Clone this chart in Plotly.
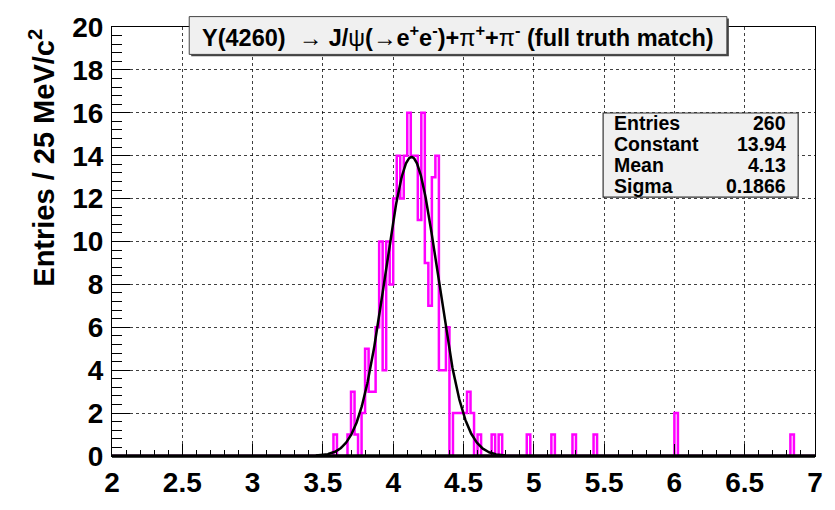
import numpy as np
import plotly.graph_objects as go

# Binning: 25 MeV/c^2 bins from 2 to 7 GeV/c^2
x_min, x_max, bin_width = 2.0, 7.0, 0.025

# Consecutive bin contents starting at the bin whose low edge is 3.575
core_start = 3.575
core_counts = [1, 0, 0, 0, 1, 3, 1, 0, 2, 5, 3, 3, 6, 10, 4, 10, 8, 12, 14, 12,
               14, 16, 14, 14, 11, 16, 9, 7, 13, 14, 4, 4, 6, 0, 2, 2, 2, 2, 3, 2,
               0, 1]

# Isolated entries in the high-mass tail (bin low edge, content)
tail_mass = [4.700, 4.750, 4.950, 5.125, 5.275, 5.425, 6.000, 6.825]
tail_counts = [1, 1, 1, 1, 1, 1, 2, 1]

# Gaussian fit result
fit_const, fit_mean, fit_sigma = 13.94, 4.13, 0.1866
fit_range = (3.45, 4.80)
n_entries = 260

y_ticks = list(range(0, 21, 2))

# ---- assemble the histogram ----
n_bins = int(round((x_max - x_min) / bin_width))
edges = x_min + bin_width * np.arange(n_bins + 1)
counts = np.zeros(n_bins)
i0 = int(round((core_start - x_min) / bin_width))
counts[i0:i0 + len(core_counts)] = core_counts
for m, c in zip(tail_mass, tail_counts):
    counts[int(round((m - x_min) / bin_width))] += c

step_x = list(edges)
step_y = list(counts) + [counts[-1]]

fx = np.linspace(fit_range[0], fit_range[1], 400)
fy = fit_const * np.exp(-0.5 * ((fx - fit_mean) / fit_sigma) ** 2)

FONT = "Liberation Sans"

fig = go.Figure()
fig.add_trace(go.Scatter(x=step_x, y=step_y, mode="lines",
                         line=dict(color="#ff00ff", width=2.5, shape="hv"),
                         hoverinfo="skip", showlegend=False))
fig.add_trace(go.Scatter(x=fx, y=fy, mode="lines",
                         line=dict(color="black", width=2.5),
                         hoverinfo="skip", showlegend=False))

# plot-area geometry in pixels
W, H = 835, 510
L, R, T, B = 112, 822, 18, 472
pw, ph = R - L, B - T


def px(x):
    return (x - L) / pw


def py(y):
    return (B - y) / ph


axis_common = dict(
    showline=True, linecolor="black", linewidth=1.2, mirror=True,
    ticks="inside", tickcolor="black",
    showgrid=True, gridcolor="rgba(0,0,0,0.75)", griddash="dot", gridwidth=1,
    zeroline=False,
    tickfont=dict(family=FONT, size=28, color="black", weight="bold"),
)

fig.update_xaxes(range=[x_min, x_max], dtick=0.5, tick0=2, ticklen=12, tickwidth=1,
                 ticklabelstandoff=1,
                 minor=dict(ticks="inside", dtick=0.1, ticklen=6, tickcolor="black",
                            showgrid=False),
                 **axis_common)
fig.update_yaxes(range=[0, 20], tickvals=y_ticks, ticklen=18, tickwidth=1,
                 ticklabelstandoff=2,
                 minor=dict(ticks="inside", dtick=0.4, ticklen=10, tickcolor="black",
                            showgrid=False),
                 **axis_common)

shapes = []
annotations = []

# heavier bottom axis drawn over the histogram baseline
shapes.append(dict(type="line", xref="paper", yref="paper", x0=0, x1=1, y0=0, y1=0,
                   line=dict(color="black", width=3.4), layer="above"))

# title box with a thin shadow
tb = (190, 7, 733, 47)
shapes.append(dict(type="rect", xref="paper", yref="paper",
                   x0=px(tb[0] + 2), x1=px(tb[2] + 2), y0=py(tb[3] + 2), y1=py(tb[1] + 2),
                   fillcolor="#444444", line=dict(width=0), layer="above"))
shapes.append(dict(type="rect", xref="paper", yref="paper",
                   x0=px(tb[0]), x1=px(tb[2]), y0=py(tb[3]), y1=py(tb[1]),
                   fillcolor="#f0f0f0", line=dict(color="#444444", width=1), layer="above"))
annotations.append(dict(
    xref="paper", yref="paper", x=px((tb[0] + tb[2]) / 2), y=py((tb[1] + tb[3]) / 2 + 1),
    xanchor="center", yanchor="middle", showarrow=False,
    text="<b>Y(4260)</b>  \u2192 <b>J/</b>\u03c8<b>(</b>\u2192<b>e<sup>+</sup>e<sup>-</sup>)+</b>"
         "\u03c0<b><sup>+</sup>+</b>\u03c0<b><sup>-</sup> (full truth match)</b>",
    font=dict(family=FONT, size=23.5, color="black")))

# statistics box
sb = (608, 109, 805, 198)
shapes.append(dict(type="rect", xref="paper", yref="paper",
                   x0=px(sb[0]), x1=px(sb[2]), y0=py(sb[3]), y1=py(sb[1]),
                   fillcolor="#f0f0f0", line=dict(color="#333333", width=1.2), layer="above"))
stat_names = ["Entries", "Constant", "Mean", "Sigma"]
stat_vals = [f"{n_entries}", f"{fit_const:.2f}", f"{fit_mean:.2f}", f"{fit_sigma:.4f}"]
row_y = [120, 142, 164, 186]
for name, val, yy in zip(stat_names, stat_vals, row_y):
    annotations.append(dict(xref="paper", yref="paper", x=px(617), y=py(yy),
                            xanchor="left", yanchor="middle", showarrow=False,
                            text=f"<b>{name}</b>",
                            font=dict(family=FONT, size=19.5, color="black")))
    annotations.append(dict(xref="paper", yref="paper", x=px(795), y=py(yy),
                            xanchor="right", yanchor="middle", showarrow=False,
                            text=f"<b>{val}</b>",
                            font=dict(family=FONT, size=19.5, color="black")))

# y-axis title, aligned to the top of the axis
annotations.append(dict(xref="paper", yref="paper", x=px(41), y=1.0,
                        xanchor="center", yanchor="top", textangle=-90, showarrow=False,
                        text="<b>Entries / 25 MeV/c<sup>2</sup></b>",
                        font=dict(family=FONT, size=29, color="black")))

fig.update_layout(
    width=W, height=H,
    margin=dict(l=L, r=W - R, t=T, b=H - B),
    paper_bgcolor="white", plot_bgcolor="white",
    shapes=shapes, annotations=annotations,
    showlegend=False,
)

fig.write_html("out.html")
